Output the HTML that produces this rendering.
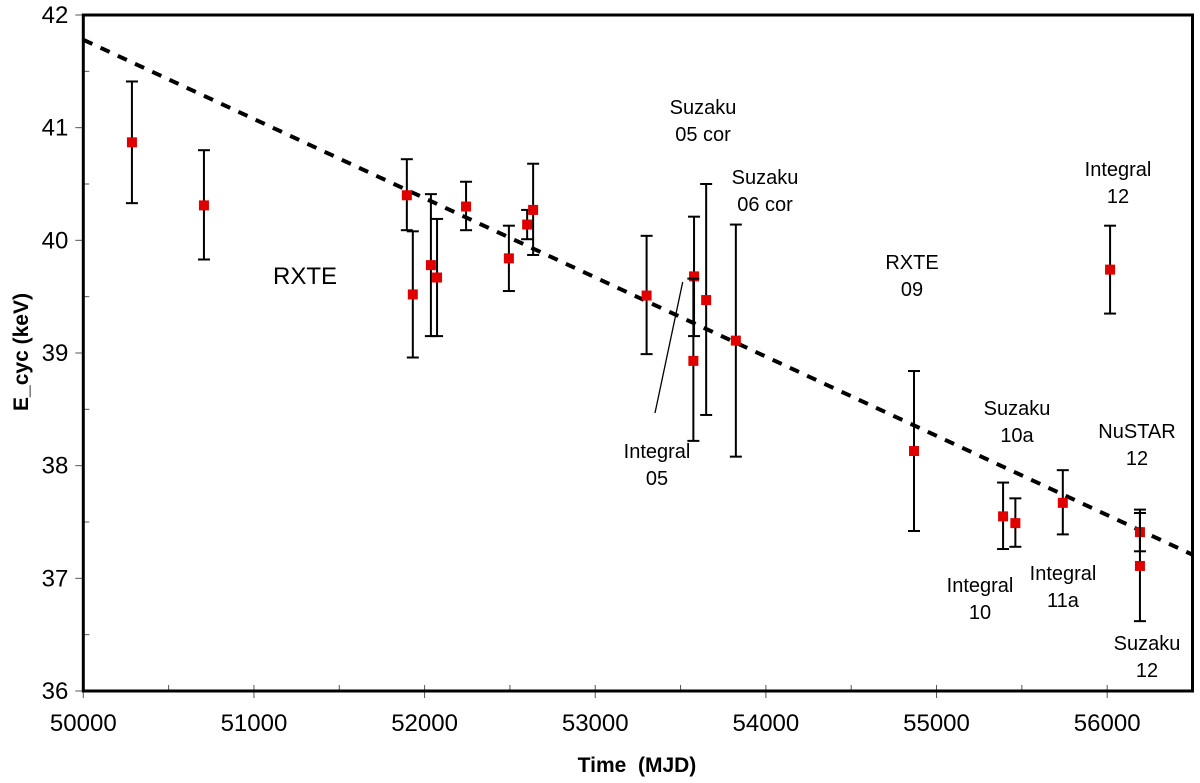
<!DOCTYPE html>
<html><head><meta charset="utf-8"><style>
html,body{margin:0;padding:0;background:#fff;}
svg{display:block;font-family:"Liberation Sans",Arial,sans-serif;}
</style></head><body>
<svg id="chart" width="1200" height="783" viewBox="0 0 1200 783" xmlns="http://www.w3.org/2000/svg"></svg>
<script>
const mjd   = [50285,50707,51896,51931,52037,52073,52243,52494,52601,52636,53301,53579,53575,53650,53824,54868,55390,55462,55740,56017,56192,56192];
const ecyc  = [40.87,40.31,40.40,39.52,39.78,39.67,40.30,39.84,40.14,40.27,39.51,39.68,38.93,39.47,39.11,38.13,37.55,37.49,37.67,39.74,37.41,37.11];
const errHi = [41.41,40.80,40.72,40.08,40.41,40.19,40.52,40.13,40.27,40.68,40.04,40.21,39.66,40.50,40.14,38.84,37.85,37.71,37.96,40.13,37.61,37.58];
const errLo = [40.33,39.83,40.09,38.96,39.15,39.15,40.09,39.55,40.01,39.87,38.99,39.15,38.22,38.45,38.08,37.42,37.26,37.28,37.39,39.35,37.24,36.62];
const fitX = [50000,56500];
const fitY = [41.78,37.21];
const xTicks = [50000,51000,52000,53000,54000,55000,56000];
const yTicks = [36,37,38,39,40,41,42];
const labels = [
  {t:["RXTE"],x:305,y:284,s:24},
  {t:["Suzaku","05 cor"],x:703,y:114,s:20},
  {t:["Suzaku","06 cor"],x:765,y:184,s:20},
  {t:["Integral","05"],x:657,y:458,s:20},
  {t:["RXTE","09"],x:912,y:269,s:20},
  {t:["Integral","12"],x:1118,y:176,s:20},
  {t:["Suzaku","10a"],x:1017,y:415,s:20},
  {t:["NuSTAR","12"],x:1137,y:438,s:20},
  {t:["Integral","10"],x:980,y:592,s:20},
  {t:["Integral","11a"],x:1063,y:580,s:20},
  {t:["Suzaku","12"],x:1147,y:650,s:20}
];
const L=83.3,R=1192.5,T=15,B=691;
const xs=v=>L+(v-50000)*(R-L)/6500;
const ys=v=>B-(v-36)*(B-T)/6;
const svg=document.getElementById('chart');
const NS='http://www.w3.org/2000/svg';
function mk(tag,attrs,parent){const e=document.createElementNS(NS,tag);for(const k in attrs)e.setAttribute(k,attrs[k]);(parent||svg).appendChild(e);return e;}
const fit=mk('line',{x1:xs(fitX[0]),y1:ys(fitY[0]),x2:xs(fitX[1]),y2:ys(fitY[1]),stroke:'#000','stroke-width':4,'stroke-dasharray':'10 9'});


for(let i=0;i<xTicks.length;i++){
  const v=xTicks[i];
  const t=mk('line',{x1:xs(v),x2:xs(v),y1:B-6,y2:B+7,stroke:'#555','stroke-width':1});
  
  
  const m=mk('line',{x1:xs(v+500),x2:xs(v+500),y1:B-6,y2:B,stroke:'#555','stroke-width':1});
  
  
  const tx=mk('text',{x:xs(v),y:B+40,'font-size':24,'text-anchor':'middle',fill:'#000'});
  tx.textContent=v;
  
  
}
for(let i=0;i<yTicks.length;i++){
  const v=yTicks[i];
  const t=mk('line',{x1:L-8,x2:L,y1:ys(v),y2:ys(v),stroke:'#555','stroke-width':1});
  
  
  if(v<42){const m=mk('line',{x1:L,x2:L+6,y1:ys(v+0.5),y2:ys(v+0.5),stroke:'#555','stroke-width':1});
  
  }
  const tx=mk('text',{x:L-15,y:ys(v)+8,'font-size':24,'text-anchor':'end',fill:'#000'});
  tx.textContent=v;
  
  
}
const fr=mk('rect',{x:L,y:T,width:R-L,height:B-T,fill:'none',stroke:'#000','stroke-width':3});


const pl=mk('line',{x1:682.7,y1:282,x2:655,y2:413,stroke:'#000','stroke-width':1.3});


for(let i=0;i<mjd.length;i++){
  const x=xs(mjd[i]);
  const g=mk('g',{});
  
  
  mk('line',{x1:x,x2:x,y1:ys(errHi[i]),y2:ys(errLo[i]),stroke:'#000','stroke-width':2},g);
  mk('line',{x1:x-6,x2:x+6,y1:ys(errHi[i]),y2:ys(errHi[i]),stroke:'#000','stroke-width':2},g);
  mk('line',{x1:x-6,x2:x+6,y1:ys(errLo[i]),y2:ys(errLo[i]),stroke:'#000','stroke-width':2},g);
  mk('rect',{x:x-5,y:ys(ecyc[i])-5,width:10,height:10,fill:'#e00000'},g);
}
for(const l of labels){
  const tx=mk('text',{x:l.x,y:l.y,'font-size':l.s,'text-anchor':'middle',fill:'#000'});
  
  
  l.t.forEach((s,j)=>{const ts=mk('tspan',{x:l.x,dy:j?27:0},tx);ts.textContent=s;});
}
const xt=mk('text',{x:637,y:772,'font-size':21,'font-weight':'bold','text-anchor':'middle',fill:'#000'});
xt.textContent='Time\u00a0 (MJD)';


const yt=mk('text',{x:0,y:0,'font-size':21,'font-weight':'bold','text-anchor':'middle',fill:'#000',transform:'translate(28,352) rotate(-90)'});
yt.textContent='E_cyc (keV)';


</script>
</body></html>
